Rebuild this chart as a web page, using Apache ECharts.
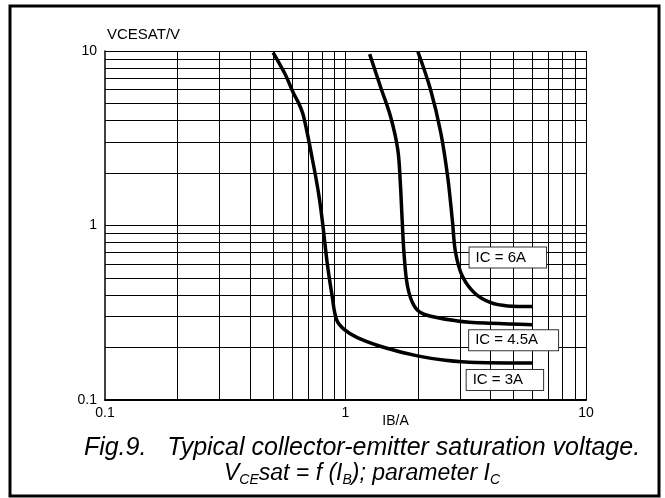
<!DOCTYPE html>
<html>
<head>
<meta charset="utf-8">
<script src="https://cdn.jsdelivr.net/npm/echarts@6/dist/echarts.min.js"></script>
<style>
  html, body { margin: 0; padding: 0; background: #fff; }
  #chart { width: 665px; height: 498px; }
</style>
</head>
<body>
<div id="chart"></div>
<script>
// curves: [IB (A), VCEsat (V)]
const curveIC3 = [
  [0.5, 9.8], [0.56, 7.4], [0.607, 5.75], [0.64, 5.0], [0.67, 4.2], [0.729, 2.38], [0.772, 1.54],
  [0.80, 1.08], [0.839, 0.612], [0.88, 0.394], [0.917, 0.29], [0.984, 0.255],
  [1.12, 0.228], [1.45, 0.2], [1.99, 0.179], [2.6, 0.169], [3.5, 0.164], [6.0, 0.163]
]
const curveIC45 = [
  [1.26, 9.6], [1.4, 6.2], [1.54, 4.2], [1.65, 2.72], [1.69, 1.76],
  [1.72, 1.08], [1.75, 0.7], [1.81, 0.45], [1.93, 0.346], [2.12, 0.31],
  [2.92, 0.284], [4.02, 0.275], [6.0, 0.27]
]
const curveIC6 = [
  [2.0, 9.9], [2.26, 5.98], [2.49, 3.4], [2.66, 1.9], [2.78, 1.08],
  [2.87, 0.698], [3.06, 0.513], [3.43, 0.412], [4.02, 0.361], [4.72, 0.346],
  [6.0, 0.343]
]
const curveNames = ['IC = 3A', 'IC = 4.5A', 'IC = 6A']
// where the little boxed labels sit (centre, in data units)
const labelPos = [[4.6, 0.13], [5.0, 0.22], [4.73, 0.656]]

// log grid lines
const gridX = [0.2, 0.3, 0.4, 0.5, 0.6, 0.7, 0.8, 0.9, 1, 2, 3, 4, 5, 6, 7, 8, 9, 10]
const gridY = [0.2, 0.3, 0.4, 0.5, 0.6, 0.7, 0.8, 0.9, 1, 2, 3, 4, 5, 6, 7, 8, 9, 10]

const chart = echarts.init(document.getElementById('chart'))
const font = 'Liberation Sans, Arial, sans-serif'

function curveSeries (name, data, pos) {
  return {
    name: name,
    type: 'line',
    data: data,
    smooth: 0.35,
    symbol: 'none',
    z: 3,
    lineStyle: { color: '#000', width: 3.5 },
    markPoint: {
      symbol: 'rect',
      symbolSize: 0,
      silent: true,
      data: [{ coord: pos }],
      label: {
        show: true,
        position: 'inside',
        formatter: name,
        color: '#000',
        fontFamily: font,
        fontSize: 15,
        backgroundColor: '#fff',
        borderColor: '#333',
        borderWidth: 1,
        padding: [3, 20, 2, 6]
      }
    }
  }
}

const option = {
  animation: false,
  grid: { left: 105, right: 79, top: 51, bottom: 98 },
  xAxis: {
    type: 'log',
    logBase: 10,
    min: 0.1,
    max: 10,
    name: 'IB/A',
    nameLocation: 'middle',
    nameGap: 14,
    nameMoveOverlap: false,
    nameTextStyle: { color: '#000', fontFamily: font, fontSize: 14, padding: [0, 0, 0, 100] },
    axisLine: { lineStyle: { color: '#000', width: 2 } },
    axisTick: { show: false },
    splitLine: { show: false },
    axisLabel: { color: '#000', fontFamily: font, fontSize: 14, margin: 6 }
  },
  yAxis: {
    type: 'log',
    logBase: 10,
    min: 0.1,
    max: 10,
    name: 'VCESAT/V',
    nameLocation: 'end',
    nameGap: 9,
    nameTextStyle: { color: '#000', fontFamily: font, fontSize: 15, align: 'left', padding: [0, 0, 0, 2] },
    axisLine: { show: true, lineStyle: { color: '#000', width: 1.5 } },
    axisTick: { show: false },
    splitLine: { show: false },
    axisLabel: { color: '#000', fontFamily: font, fontSize: 14, margin: 8 }
  },
  series: [
    {
      name: 'grid',
      type: 'line',
      data: [],
      z: 1,
      markLine: {
        silent: true,
        symbol: ['none', 'none'],
        label: { show: false },
        lineStyle: { color: '#000', width: 1, type: 'solid' },
        data: gridX.map(v => ({ xAxis: v })).concat(gridY.map(v => ({ yAxis: v })))
      }
    },
    curveSeries(curveNames[0], curveIC3, labelPos[0]),
    curveSeries(curveNames[1], curveIC45, labelPos[1]),
    curveSeries(curveNames[2], curveIC6, labelPos[2])
  ],
  graphic: [
    {
      type: 'rect',
      shape: { x: 10, y: 6, width: 649, height: 490 },
      style: { fill: 'none', stroke: '#000', lineWidth: 3 }
    },
    {
      type: 'text',
      x: 362,
      y: 448,
      style: {
        text: 'Fig.9.   Typical collector-emitter saturation voltage.',
        font: 'italic 25px ' + font,
        fill: '#000',
        align: 'center',
        verticalAlign: 'middle'
      }
    },
    {
      type: 'text',
      x: 362,
      y: 474,
      style: {
        text: '{m|V}{s|CE}{m|sat = f (I}{s|B}{m|); parameter I}{s|C}',
        align: 'center',
        verticalAlign: 'middle',
        fill: '#000',
        rich: {
          m: { font: 'italic 23px ' + font, lineHeight: 26, fill: '#000' },
          s: { font: 'italic 14px ' + font, lineHeight: 13, verticalAlign: 'bottom', fill: '#000' }
        }
      }
    }
  ]
}

chart.setOption(option)
</script>
</body>
</html>
